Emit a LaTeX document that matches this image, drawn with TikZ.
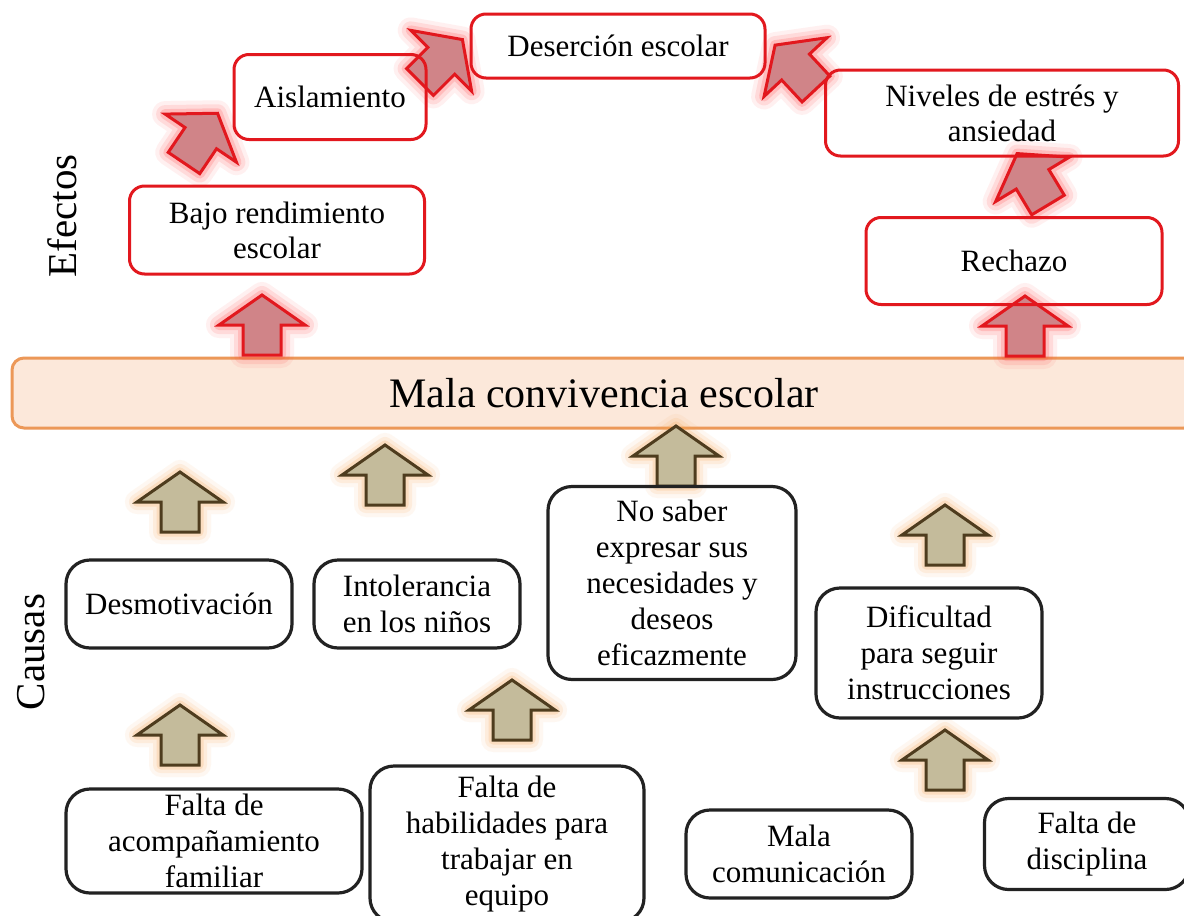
\documentclass[tikz,border=0pt]{standalone}
\usepackage{fontspec}
\setmainfont{Liberation Serif}
\definecolor{effred}{RGB}{226,24,30}
\definecolor{arrowpink}{RGB}{208,132,136}
\definecolor{glowred}{RGB}{255,70,70}
\definecolor{tanfill}{RGB}{196,187,155}
\definecolor{tanline}{RGB}{78,60,30}
\definecolor{glowtan}{RGB}{247,165,80}
\definecolor{bandfill}{RGB}{252,232,218}
\definecolor{bandline}{RGB}{236,152,88}
\definecolor{causeline}{RGB}{34,34,34}
\tikzset{
effect/.style={draw=effred,line width=3pt,rounded corners=15pt,align=center,inner sep=0pt,font=\fontsize{31}{35}\selectfont},
cause/.style={draw=causeline,line width=3.2pt,rounded corners=24pt,align=center,inner sep=0pt,font=\fontsize{31}{36}\selectfont},
side/.style={rotate=90,font=\fontsize{41}{45}\selectfont},
pics/redup/.style={code={
\foreach \glw/\glo in {26/0.08,18/0.13,10/0.2}
\draw[glowred,line width=\glw pt,opacity=\glo,line join=round] (-19,0)--(-19,-30)--(-43,-30)--(0,-60)--(43,-30)--(19,-30)--(19,0)--cycle;
\draw[effred,fill=arrowpink,line width=3pt] (-19,0)--(-19,-30)--(-43,-30)--(0,-60)--(43,-30)--(19,-30)--(19,0)--cycle;
}},
pics/tanup/.style={code={
\foreach \glw/\glo in {24/0.08,16/0.13,9/0.2}
\draw[glowtan,line width=\glw pt,opacity=\glo,line join=round] (-19,0)--(-19,-30)--(-43,-30)--(0,-60)--(43,-30)--(19,-30)--(19,0)--cycle;
\draw[tanline,fill=tanfill,line width=3pt] (-19,0)--(-19,-30)--(-43,-30)--(0,-60)--(43,-30)--(19,-30)--(19,0)--cycle;
}}
}
\begin{document}
\begin{tikzpicture}[x=1pt,y=-1pt]
\useasboundingbox (0,0) rectangle (1184,916);
\clip (0,0) rectangle (1184,916);
\fill[white] (0,0) rectangle (1184,916);
\node[draw=bandline,fill=bandfill,line width=3pt,rounded corners=12pt,minimum width=1184pt,minimum height=70pt,inner sep=0pt,font=\fontsize{42}{46}\selectfont] (band) at (604,393) {Mala convivencia escolar};
\node[side] (efectos) at (62,216) {Efectos};
\node[side] (causas) at (31,652) {Causas};
\pic at (262,355) {redup};
\pic at (1025,356) {redup};
\pic[rotate=31] at (1048,205) {redup};
\pic[rotate=-34] at (184,163) {redup};
\pic[rotate=-45] at (420,82) {redup};
\pic[rotate=43] at (816,89) {redup};
\pic at (180,532) {tanup};
\pic at (385,505) {tanup};
\pic at (676,486) {tanup};
\pic at (945,565) {tanup};
\pic at (180,765) {tanup};
\pic at (512,740) {tanup};
\pic at (945,790) {tanup};
\node[effect,minimum width=294pt,minimum height=64pt] (desercion) at (618,46) {Deserción escolar};
\node[effect,minimum width=192pt,minimum height=85pt] (aislamiento) at (330,97) {Aislamiento};
\node[effect,minimum width=353pt,minimum height=86pt] (niveles) at (1002,113) {Niveles de estrés y\\ansiedad};
\node[effect,minimum width=295pt,minimum height=88pt] (bajo) at (277,230) {Bajo rendimiento\\escolar};
\node[effect,minimum width=296pt,minimum height=87pt] (rechazo) at (1014,261) {Rechazo};
\node[cause,minimum width=226pt,minimum height=88pt] (desmotivacion) at (179,604) {Desmotivación};
\node[cause,minimum width=206pt,minimum height=88pt] (intolerancia) at (417,604) {Intolerancia\\en los niños};
\node[cause,minimum width=248pt,minimum height=193pt] (nosaber) at (672,583) {No saber\\expresar sus\\necesidades y\\deseos\\eficazmente};
\node[cause,minimum width=226pt,minimum height=130pt] (dificultad) at (929,653) {Dificultad\\para seguir\\instrucciones};
\node[cause,minimum width=296pt,minimum height=104pt] (acompanamiento) at (214,841) {Falta de\\acompañamiento\\familiar};
\node[cause,minimum width=274pt,minimum height=156pt] (habilidades) at (507,844) {Falta de\\habilidades para\\trabajar en\\equipo};
\node[cause,minimum width=226pt,minimum height=88pt] (comunicacion) at (799,854) {Mala\\comunicación};
\node[cause,minimum width=205pt,minimum height=91pt] (disciplina) at (1087,844) {Falta de\\disciplina};
\end{tikzpicture}
\end{document}
